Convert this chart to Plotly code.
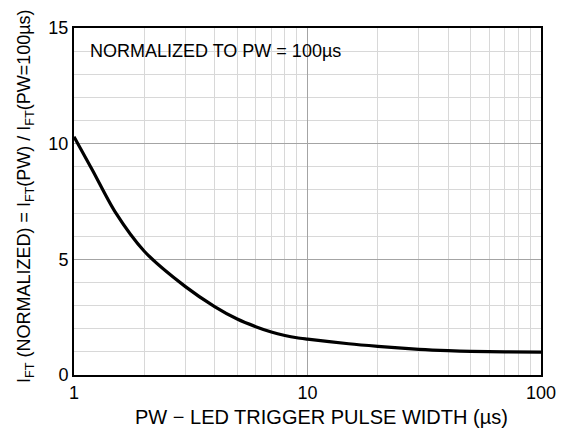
import plotly.graph_objects as go

pw = [1, 1.2, 1.5, 2, 3, 4, 5, 6, 7, 8, 9, 10, 15, 20, 30, 40, 50, 70, 100]
ift = [10.3, 8.85, 7.05, 5.35, 3.82, 2.96, 2.42, 2.09, 1.86, 1.71, 1.61, 1.55, 1.35, 1.24, 1.11, 1.05, 1.02, 1.0, 0.99]

x_ticks = [1, 10, 100]
x_minor = [2, 3, 4, 5, 6, 7, 8, 9, 20, 30, 40, 50, 60, 70, 80, 90]
y_ticks = [0, 5, 10, 15]
y_minor = [1, 2, 3, 4, 6, 7, 8, 9, 11, 12, 13, 14]

FONT = "Liberation Sans, Arial, sans-serif"
L, R, T, B = 74, 541, 28, 375
W, H = 567, 434
PW_, PH_ = R - L, B - T

fig = go.Figure()
fig.add_trace(go.Scatter(x=pw, y=ift, mode="lines",
                         line=dict(color="black", width=3.2, shape="spline", smoothing=0.8),
                         showlegend=False, hoverinfo="skip"))

fig.update_layout(
    width=W, height=H,
    margin=dict(l=L, r=W - R, t=T, b=H - B),
    paper_bgcolor="white", plot_bgcolor="white",
    font=dict(family=FONT, size=18, color="black"),
    xaxis=dict(type="log", range=[0, 2], tickvals=x_ticks, ticktext=[str(v) for v in x_ticks],
               showgrid=True, gridcolor="#a4a4a4", gridwidth=1.2,
               minor=dict(tickvals=x_minor, showgrid=True, gridcolor="#d8d8d8", gridwidth=1.2, ticks=""),
               showline=True, linecolor="black", linewidth=2, mirror=True,
               ticks="", zeroline=False, tickfont=dict(size=18)),
    yaxis=dict(range=[0, 15], tickvals=y_ticks,
               showgrid=True, gridcolor="#a4a4a4", gridwidth=1.2,
               minor=dict(tickvals=y_minor, showgrid=True, gridcolor="#d8d8d8", gridwidth=1.2, ticks=""),
               showline=True, linecolor="black", linewidth=2, mirror=True,
               ticks="", zeroline=False, tickfont=dict(size=18)),
    annotations=[
        dict(text="NORMALIZED TO PW = 100µs", x=(88 - L) / PW_, xref="paper",
             y=1 - (51 - T) / PH_, yref="paper",
             showarrow=False, xanchor="left", yanchor="middle", font=dict(size=18)),
        dict(text="PW − LED TRIGGER PULSE WIDTH (µs)", x=(321 - L) / PW_, xref="paper",
             y=-(417 - B) / PH_, yref="paper", showarrow=False, xanchor="center", yanchor="middle",
             font=dict(size=20)),
        dict(text="I<sub>FT</sub> (NORMALIZED) = I<sub>FT</sub>(PW) / I<sub>FT</sub>(PW=100µs)",
             x=-(L - 25) / PW_, xref="paper", y=1 - (196 - T) / PH_, yref="paper", textangle=-90,
             showarrow=False, xanchor="center", yanchor="middle", font=dict(size=18)),
    ],
)

fig.write_html("out.html", config={"displayModeBar": False},
               post_script="document.body.style.margin='0';")
